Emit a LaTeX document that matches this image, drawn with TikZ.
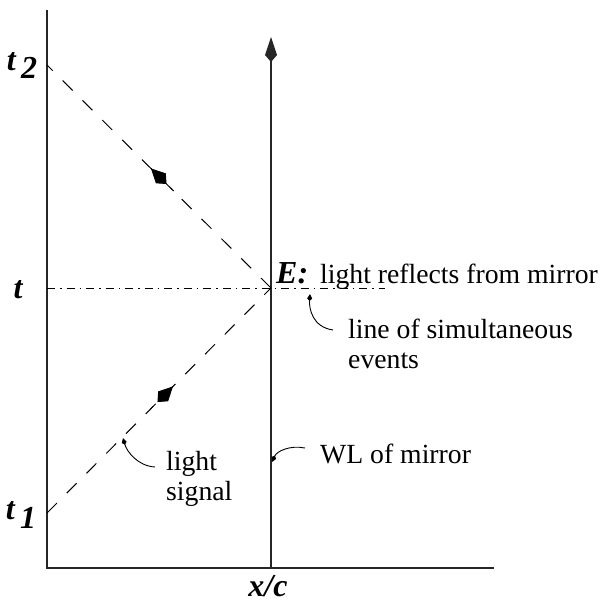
\documentclass[tikz,border=0pt]{standalone}
\usepackage{fontspec}
\setmainfont{Liberation Serif}
\usetikzlibrary{arrows.meta,decorations.markings}
\begin{document}
\begin{tikzpicture}[x=1pt,y=-1pt,
  axis/.style={line width=1.3pt, black!85},
  lightray/.style={line width=1pt, dash pattern=on 14pt off 14pt},
  simul/.style={line width=0.9pt, dash pattern=on 8pt off 5pt on 1.5pt off 5pt},
  lbl/.style={font=\fontsize{27.7}{31}\selectfont, inner sep=0pt},
  sym/.style={font=\fontsize{32}{36}\selectfont\bfseries\itshape, inner sep=0pt},
  callout/.style={line width=0.9pt, -{Kite[length=7pt,width=5pt,inset=2.5pt]}},
]
\useasboundingbox (0,0) rectangle (600,605);
% key points
\coordinate (O) at (47,568);
\coordinate (Ttop) at (47,10);
\coordinate (Xend) at (494,568);
\coordinate (Mbot) at (271,568);
\coordinate (Mtop) at (271,37);
\coordinate (T2) at (47,65);
\coordinate (T) at (47,288);
\coordinate (T1) at (47,513);
\coordinate (E) at (271,288);
\coordinate (Send) at (385,288);
% axes
\draw[axis] (Ttop) -- (O) -- (Xend);
% world line of mirror
\draw[axis, -{Kite[length=25pt,width=12pt,inset=7pt]}] (Mbot) -- (Mtop);
% line of simultaneous events
\draw[simul] (T) -- (Send);
% light signals
\draw[lightray, postaction={solid, decorate}, decoration={markings,
  mark=at position 0.536 with {\draw[line width=1pt] (0pt,0pt) -- (-32pt,0pt); \arrow{Kite[length=22pt,width=14pt,inset=8pt]}}}]
  (E) -- (T2);
\draw[lightray, postaction={solid, decorate}, decoration={markings,
  mark=at position 0.5625 with {\draw[line width=1pt] (0pt,0pt) -- (-32pt,0pt); \arrow{Kite[length=22pt,width=14pt,inset=8pt]}}}]
  (T1) -- (E);
% axis labels
\node[sym, anchor=base] (lt2) at (22,70) {t\,\raisebox{-8pt}{2}};
\node[sym, anchor=base] (lt) at (18,298) {t};
\node[sym, anchor=base] (lt1) at (21,519) {t\,\raisebox{-9pt}{1}};
\node[sym, anchor=base] (lxc) at (268,596) {x/c};
% event label
\node[sym, anchor=base west] (lE) at (276,283) {E:};
\node[lbl, anchor=base west] (lrefl) at (320,283) {light reflects from mirror};
% annotations
\node[lbl, anchor=base west] (sim1) at (348,338) {line of simultaneous};
\node[lbl, anchor=base west] (sim2) at (348,368) {events};
\node[lbl, anchor=base west] (ls1) at (166,470) {light};
\node[lbl, anchor=base west] (ls2) at (166,500) {signal};
\node[lbl, anchor=base west] (lwl) at (320,463) {WL of mirror};
% callout connectors
\coordinate (SimTip) at (310,294);
\coordinate (SimStart) at (333,330);
\coordinate (WLTip) at (272,462);
\coordinate (WLStart) at (305,448);
\coordinate (LSTip) at (123,438);
\coordinate (LSStart) at (155,467);
\draw[callout] (SimStart) .. controls (312,327) and (309,308) .. (SimTip);
\draw[callout] (WLStart) .. controls (290,445) and (277,451) .. (WLTip);
\draw[callout] (LSStart) .. controls (138,466) and (127,452) .. (LSTip);
\end{tikzpicture}
\end{document}
